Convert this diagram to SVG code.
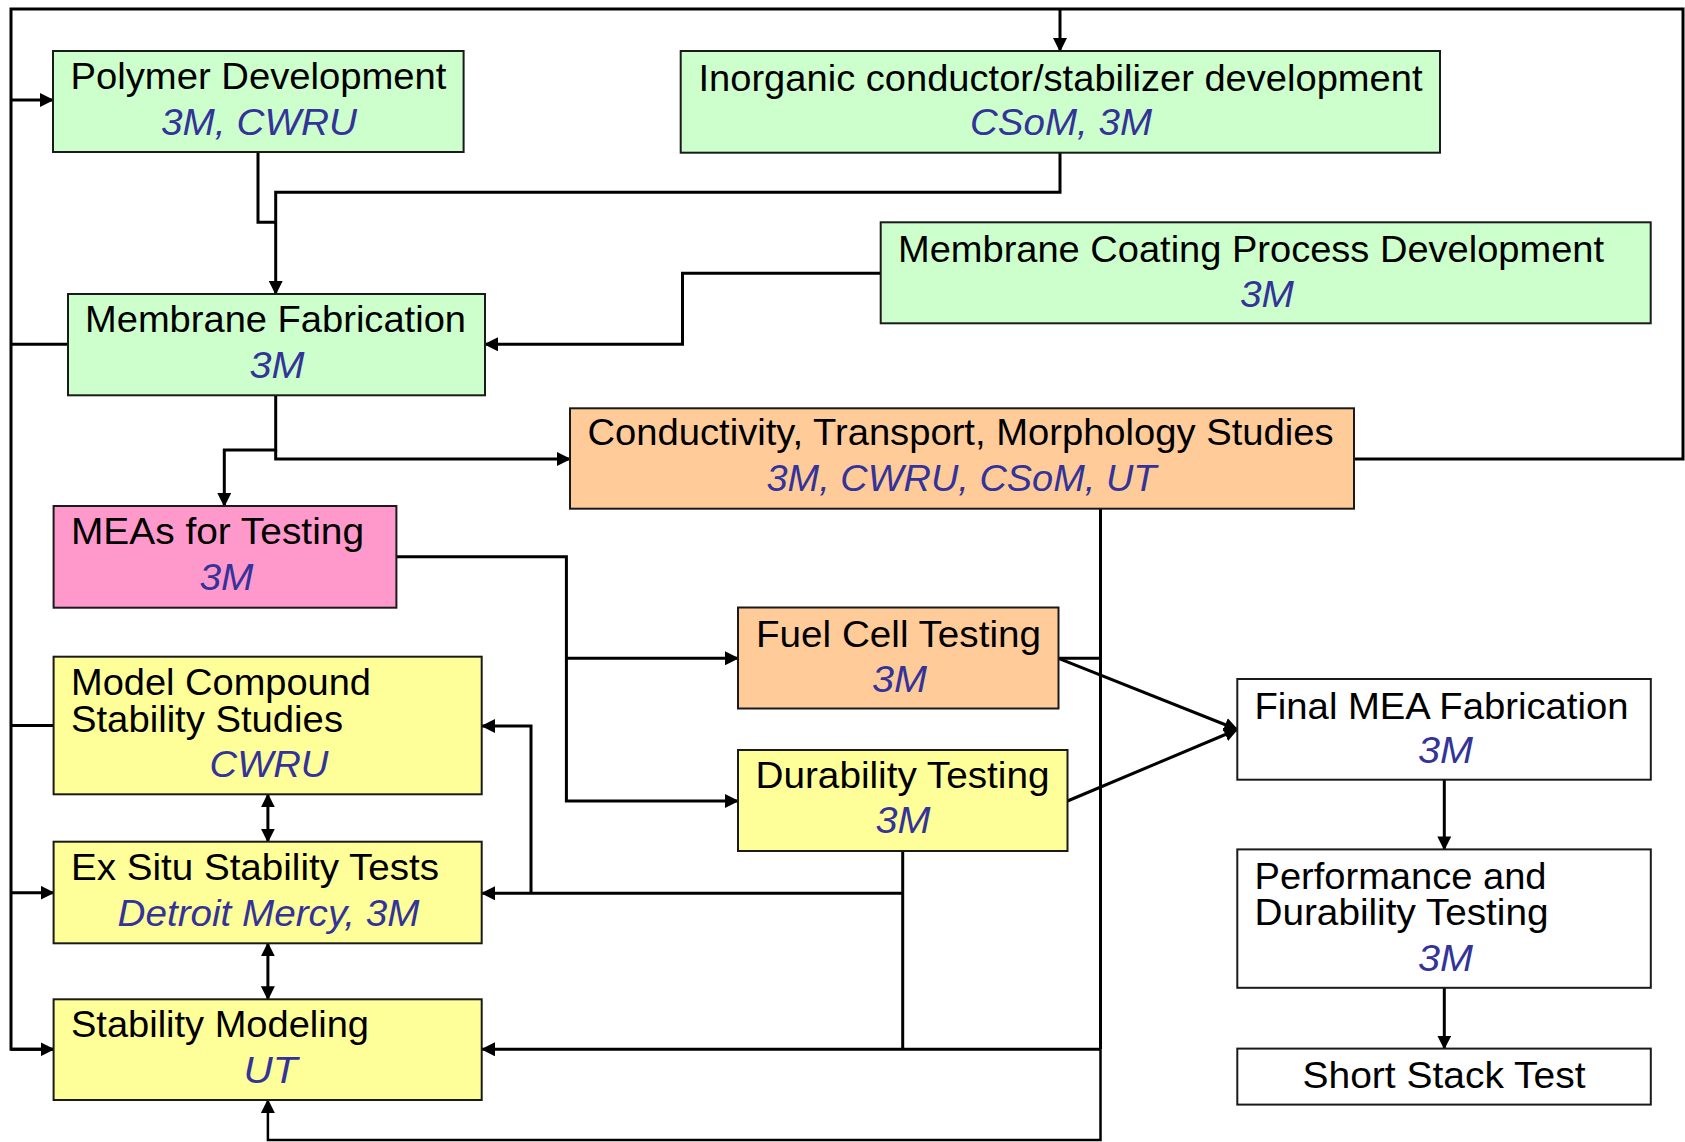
<svg xmlns="http://www.w3.org/2000/svg" width="1685" height="1142" viewBox="0 0 1685 1142">
<defs>
<style>
.box{stroke:#1a1a1a;stroke-width:2}
.g{fill:#CCFFCC}.o{fill:#FFCC99}.p{fill:#FF99CC}.y{fill:#FFFF99}.w{fill:#FFFFFF}
.t{font-family:"Liberation Sans",Arial,sans-serif;font-size:36px;fill:#000}
.s{font-family:"Liberation Sans",Arial,sans-serif;font-size:36px;font-style:italic;fill:#333399}
.c{fill:none;stroke:#000;stroke-width:3}
.a{marker-end:url(#ah)}
.d{marker-start:url(#ah);marker-end:url(#ah)}
</style>
<marker id="ah" markerUnits="userSpaceOnUse" markerWidth="14" markerHeight="14" viewBox="0 0 14 14" refX="13" refY="7" orient="auto-start-reverse">
<path d="M0,0 L14,7 L0,14 z" fill="#000"/>
</marker>
</defs>
<rect width="1685" height="1142" fill="#fff"/>

<g id="connectors">
<path class="c" d="M1354,459 H1683 V9 H11 V1049.3 H53.6"/>
<path class="c a" d="M11,100 H53"/>
<path class="c a" d="M1060,9 V51"/>
<path class="c" d="M11,344.3 H68"/>
<path class="c" d="M11,725.5 H53.6"/>
<path class="c a" d="M11,892.7 H53.6"/>
<path class="c a" d="M11,1049.3 H53.6"/>
<path class="c" d="M258,152 V222.3 H275.7"/>
<path class="c a" d="M1060,152.7 V192.3 H275.7 V294"/>
<path class="c a" d="M880.7,273.3 H682.5 V344.3 H485"/>
<path class="c a" d="M275.7,395.3 V450 H224.3 V506"/>
<path class="c a" d="M275.7,450 V459 H570"/>
<path class="c a" d="M396.4,556.7 H566.4 V801 H738"/>
<path class="c a" d="M566.4,658.3 H738"/>
<path class="c a" d="M1058.5,658.3 L1237.3,729.5"/>
<path class="c a" d="M1067.5,801 L1237.3,729.5"/>
<path class="c" d="M1058.5,658.3 H1101"/>
<path class="c" d="M1100,507.3 H1120"/>
<path class="c" d="M1100.5,507.3 V1049.3"/>
<path class="c a" d="M1100.5,1049.3 V1140 H267.9 V1100" style="stroke-width:2.5"/>
<path class="c a" d="M1101,1049.3 H482"/>
<path class="c" d="M902.7,851 V1049.3"/>
<path class="c a" d="M902.7,893.3 H482"/>
<path class="c a" d="M531,893.3 V726 H482"/>
<path class="c d" d="M267.9,794.3 V841.7"/>
<path class="c d" d="M267.9,943.3 V999.3"/>
<path class="c a" d="M1444.3,779.7 V849.4"/>
<path class="c a" d="M1444.3,987.8 V1048.6"/>
</g>

<g id="polymer">
<rect class="box g" x="53" y="51" width="410.6" height="101"/>
<text class="t" x="70.5" y="89" textLength="376" lengthAdjust="spacingAndGlyphs">Polymer Development</text>
<text class="s" x="161" y="135" textLength="196" lengthAdjust="spacingAndGlyphs">3M, CWRU</text>
</g>

<g id="inorganic">
<rect class="box g" x="680.7" y="51" width="759.3" height="101.7"/>
<text class="t" x="698.5" y="90.7" textLength="724" lengthAdjust="spacingAndGlyphs">Inorganic conductor/stabilizer development</text>
<text class="s" x="970" y="135" textLength="182" lengthAdjust="spacingAndGlyphs">CSoM, 3M</text>
</g>

<g id="coating">
<rect class="box g" x="880.7" y="222.3" width="770" height="101"/>
<text class="t" x="898" y="261.7" textLength="706" lengthAdjust="spacingAndGlyphs">Membrane Coating Process Development</text>
<text class="s" x="1240" y="306.7" textLength="54" lengthAdjust="spacingAndGlyphs">3M</text>
</g>

<g id="membrane-fab">
<rect class="box g" x="68" y="294" width="417" height="101.3"/>
<text class="t" x="85" y="331.7" textLength="381" lengthAdjust="spacingAndGlyphs">Membrane Fabrication</text>
<text class="s" x="249.5" y="378" textLength="55" lengthAdjust="spacingAndGlyphs">3M</text>
</g>

<g id="conductivity">
<rect class="box o" x="570" y="408.3" width="784" height="100.4"/>
<text class="t" x="587.5" y="445" textLength="746" lengthAdjust="spacingAndGlyphs">Conductivity, Transport, Morphology Studies</text>
<text class="s" x="766.5" y="490.7" textLength="390" lengthAdjust="spacingAndGlyphs">3M, CWRU, CSoM, UT</text>
</g>

<g id="meas">
<rect class="box p" x="53.6" y="506" width="342.8" height="101.7"/>
<text class="t" x="71" y="544.3" textLength="293" lengthAdjust="spacingAndGlyphs">MEAs for Testing</text>
<text class="s" x="199.5" y="590" textLength="54" lengthAdjust="spacingAndGlyphs">3M</text>
</g>

<g id="fuel-cell">
<rect class="box o" x="738" y="607.5" width="320.5" height="101"/>
<text class="t" x="756" y="646.7" textLength="285" lengthAdjust="spacingAndGlyphs">Fuel Cell Testing</text>
<text class="s" x="872" y="691.7" textLength="55" lengthAdjust="spacingAndGlyphs">3M</text>
</g>

<g id="model-compound">
<rect class="box y" x="53.6" y="656.7" width="428.1" height="137.6"/>
<text class="t" x="71" y="695" textLength="300" lengthAdjust="spacingAndGlyphs">Model Compound</text>
<text class="t" x="71" y="731.7" textLength="272" lengthAdjust="spacingAndGlyphs">Stability Studies</text>
<text class="s" x="209.5" y="776.7" textLength="119" lengthAdjust="spacingAndGlyphs">CWRU</text>
</g>

<g id="durability">
<rect class="box y" x="738" y="750" width="329.5" height="101"/>
<text class="t" x="755.5" y="788.3" textLength="294" lengthAdjust="spacingAndGlyphs">Durability Testing</text>
<text class="s" x="875.5" y="833.3" textLength="55" lengthAdjust="spacingAndGlyphs">3M</text>
</g>

<g id="final-mea">
<rect class="box w" x="1237.3" y="679" width="413.5" height="100.7"/>
<text class="t" x="1254.5" y="718.5" textLength="374" lengthAdjust="spacingAndGlyphs">Final MEA Fabrication</text>
<text class="s" x="1418" y="762.8" textLength="55" lengthAdjust="spacingAndGlyphs">3M</text>
</g>

<g id="ex-situ">
<rect class="box y" x="53.6" y="841.7" width="428.1" height="101.6"/>
<text class="t" x="71" y="880" textLength="368" lengthAdjust="spacingAndGlyphs">Ex Situ Stability Tests</text>
<text class="s" x="117.5" y="926" textLength="302" lengthAdjust="spacingAndGlyphs">Detroit Mercy, 3M</text>
</g>

<g id="performance">
<rect class="box w" x="1237.3" y="849.4" width="413.5" height="138.4"/>
<text class="t" x="1254.5" y="888.6" textLength="292" lengthAdjust="spacingAndGlyphs">Performance and</text>
<text class="t" x="1254.5" y="925.3" textLength="294" lengthAdjust="spacingAndGlyphs">Durability Testing</text>
<text class="s" x="1418" y="970.9" textLength="55" lengthAdjust="spacingAndGlyphs">3M</text>
</g>

<g id="stability-modeling">
<rect class="box y" x="53.6" y="999.3" width="428.1" height="100.7"/>
<text class="t" x="71" y="1036.7" textLength="298" lengthAdjust="spacingAndGlyphs">Stability Modeling</text>
<text class="s" x="243.5" y="1083.3" textLength="54" lengthAdjust="spacingAndGlyphs">UT</text>
</g>

<g id="short-stack">
<rect class="box w" x="1237.3" y="1048.6" width="413.5" height="56"/>
<text class="t" x="1302.5" y="1087.9" textLength="283" lengthAdjust="spacingAndGlyphs">Short Stack Test</text>
</g>
</svg>
